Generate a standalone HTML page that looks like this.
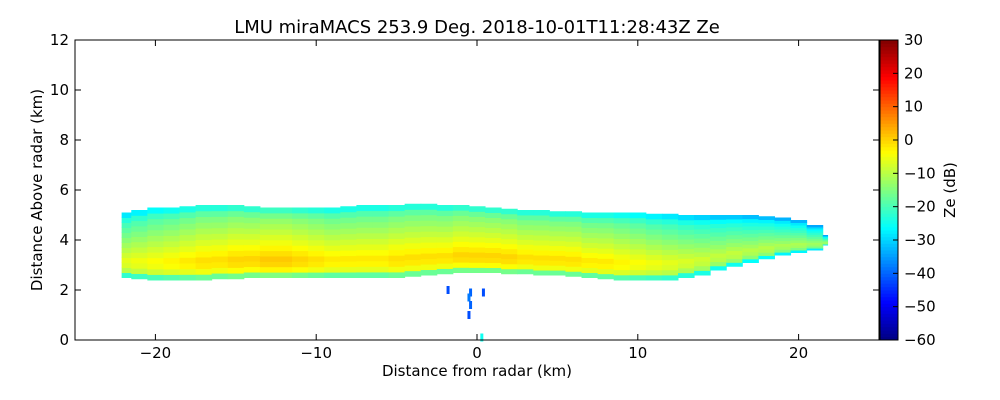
<!DOCTYPE html>
<html><head><meta charset="utf-8"><style>
body{margin:0;background:#fff}
svg{display:block;font-family:"DejaVu Sans","Liberation Sans",sans-serif}
</style></head><body>
<svg id="chart" width="1000" height="400" xmlns="http://www.w3.org/2000/svg">
<text x="477" y="33" font-size="18" text-anchor="middle">LMU miraMACS 253.9 Deg. 2018-10-01T11:28:43Z  Ze</text>
<g id="cells"></g>
<g id="axes"></g>
<text x="477" y="376" font-size="15" text-anchor="middle">Distance from radar (km)</text>
<text transform="translate(42,190) rotate(-90)" font-size="15" text-anchor="middle">Distance Above radar  (km)</text>
<text transform="translate(955,190) rotate(-90)" font-size="15" text-anchor="middle">Ze (dB)</text>
</svg>
<script>
const xTicks=[-20,-10,0,10,20];
const yTicks=[0,2,4,6,8,10,12];
const cbTicks=[30,20,10,0,-10,-20,-30,-40,-50,-60];
const distances=[-22,-21,-20,-19,-18,-17,-16,-15,-14,-13,-12,-11,-10,-9,-8,-7,-6,-5,-4,-3,-2,-1,0,1,2,3,4,5,6,7,8,9,10,11,12,13,14,15,16,17,18,19,20,21,22];
const bottoms=[2.5,2.45,2.4,2.4,2.4,2.4,2.45,2.45,2.5,2.5,2.5,2.5,2.5,2.5,2.5,2.5,2.5,2.5,2.55,2.6,2.65,2.7,2.7,2.7,2.65,2.65,2.6,2.6,2.55,2.5,2.45,2.4,2.4,2.4,2.4,2.5,2.6,2.8,2.95,3.1,3.25,3.4,3.5,3.6,3.8];
const tops=[5.1,5.2,5.3,5.3,5.35,5.4,5.4,5.4,5.35,5.3,5.3,5.3,5.3,5.3,5.35,5.4,5.4,5.4,5.45,5.45,5.4,5.4,5.35,5.3,5.25,5.2,5.2,5.15,5.15,5.1,5.1,5.1,5.1,5.05,5.05,5.0,5.0,5.0,5.0,5.0,4.95,4.9,4.8,4.6,4.2];
const colShift=[-4,-3,-2,-1,0,1,1,2,2,3,3,2,1,0,0,0,0,1,1,1,1,2,2,2,2,1,1,1,1,0,0,-1,-2,-3,-4,-5,-6,-7,-7,-8,-8,-9,-9,-10,-10];
const profile=[-18,-6,-3,-2,-4,-6,-8,-10,-12,-14,-16,-19,-24];
const specksX=[-1.8,-0.4,0.4,-0.5,-0.4,-0.5,0.3];
const specksY=[2.0,1.9,1.9,1.7,1.4,1.0,0.1];
const specksZe=[-42,-40,-42,-38,-40,-42,-25];
const xMin=-22.1,xMax=21.8;

const X0=75,X1=879,Y0=340,Y1=40;
const xs=v=>X0+(v+25)/50*(X1-X0);
const ys=v=>Y0-v/12*(Y0-Y1);
const cs=v=>340-(v+60)/90*300;
function jet(v){let t=(v+60)/90;t=Math.max(0,Math.min(1,t));
 const f=x=>Math.max(0,Math.min(1,1.5-Math.abs(4*t-x)));
 return `rgb(${Math.round(255*f(3))},${Math.round(255*f(2))},${Math.round(255*f(1))})`;}
const NS="http://www.w3.org/2000/svg";
function el(tag,a,p){const e=document.createElementNS(NS,tag);for(const k in a)e.setAttribute(k,a[k]);p.appendChild(e);return e;}
const cells=document.getElementById('cells');
const n=profile.length;
distances.forEach((d,i)=>{
 const b=bottoms[i],t=tops[i],dh=(t-b)/n;
 const l=Math.max(d-0.5,xMin),r2=Math.min(d+0.5,xMax);
 profile.forEach((z,j)=>{
  const h0=b+j*dh;
  const r=el('rect',{x:xs(l),y:ys(h0+dh),width:xs(r2)-xs(l)+0.5,height:ys(h0)-ys(h0+dh)+0.5,fill:jet(z+colShift[i])},cells);
  
  
 });
});
specksX.forEach((x,i)=>{
 const r=el('rect',{x:xs(x)-1.5,y:ys(specksY[i])-4,width:3,height:8,fill:jet(specksZe[i])},cells);
 
 
});
const ax=document.getElementById('axes');
el('rect',{x:X0,y:Y1,width:X1-X0,height:Y0-Y1,fill:'none',stroke:'#000','stroke-width':1},ax);
xTicks.forEach(v=>{const x=xs(v);
 el('line',{x1:x,x2:x,y1:Y0,y2:Y0-6,stroke:'#000'},ax);el('line',{x1:x,x2:x,y1:Y1,y2:Y1+6,stroke:'#000'},ax);
 const t=el('text',{x:x,y:358,'font-size':15,'text-anchor':'middle'},ax);t.textContent=(v<0?'\u2212'+(-v):v);
 
 });
yTicks.forEach(v=>{const y=ys(v);
 el('line',{x1:X0,x2:X0+6,y1:y,y2:y,stroke:'#000'},ax);el('line',{x1:X1,x2:X1-6,y1:y,y2:y,stroke:'#000'},ax);
 const t=el('text',{x:69,y:y+5,'font-size':15,'text-anchor':'end'},ax);t.textContent=v;
 
 });
const cb=el('g',{},ax);


for(let v=-60;v<30;v+=1){el('rect',{x:880,y:cs(v+1),width:18,height:cs(v)-cs(v+1)+0.5,fill:jet(v+0.5)},cb);}
el('rect',{x:880,y:40,width:18,height:300,fill:'none',stroke:'#000'},cb);
cbTicks.forEach(v=>{const y=cs(v);
 el('line',{x1:898,x2:893,y1:y,y2:y,stroke:'#000'},cb);
 const t=el('text',{x:904,y:y+5,'font-size':15},cb);t.textContent=(v<0?'\u2212'+(-v):v);
 
 });
</script>
</body></html>
